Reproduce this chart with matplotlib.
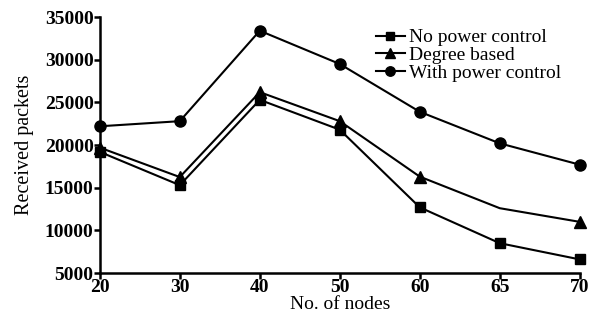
import matplotlib
matplotlib.use("Agg")
import matplotlib.pyplot as plt

nodes = ["20", "30", "40", "50", "60", "65", "70"]
no_power = [19200, 15300, 25300, 21800, 12700, 8500, 6600]
degree = [19700, 16250, 26200, 22800, 16300, 12600, 11000]
with_power = [22200, 22800, 33400, 29500, 23900, 20200, 17700]
yticks = [5000, 10000, 15000, 20000, 25000, 30000, 35000]

plt.rcParams['font.family'] = ['Liberation Serif', 'DejaVu Serif']

fig = plt.figure(figsize=(5.94, 3.22), dpi=100)
ax = fig.add_axes([0.168, 0.152, 0.808, 0.795])
x = list(range(len(nodes)))

ax.plot(x, no_power, color='black', marker='s', markersize=7, lw=1.5, label='No power control', clip_on=False)
ax.plot(x, degree, color='black', marker='^', markersize=8, lw=1.5, markevery=[0, 1, 2, 3, 4, 6], label='Degree based', clip_on=False)
ax.plot(x, with_power, color='black', marker='o', markersize=8, lw=1.5, label='With power control', clip_on=False)

ax.set_xlim(0, len(nodes) - 1)
ax.set_ylim(5000, 35000)
ax.set_xticks(x)
ax.set_xticklabels(nodes, fontsize=14, fontweight='bold')
ax.set_yticks(yticks)
ax.set_yticklabels([str(v) for v in yticks], fontsize=14, fontweight='bold')
ax.spines['top'].set_visible(False)
ax.spines['right'].set_visible(False)
ax.spines['left'].set_linewidth(1.8)
ax.spines['bottom'].set_linewidth(1.8)
ax.tick_params(direction='out', length=4, width=1.8, pad=0.5)
ax.set_xlabel('No. of nodes', fontsize=14, labelpad=0)
ax.set_ylabel('Received packets', fontsize=14.5, labelpad=8)

ax.legend(loc='upper right', bbox_to_anchor=(0.985, 1.0), frameon=False, fontsize=14,
          handlelength=1.5, handletextpad=0.2, labelspacing=0.0, borderpad=0.1, markerscale=0.85)

fig.savefig('out.png', dpi=100)
